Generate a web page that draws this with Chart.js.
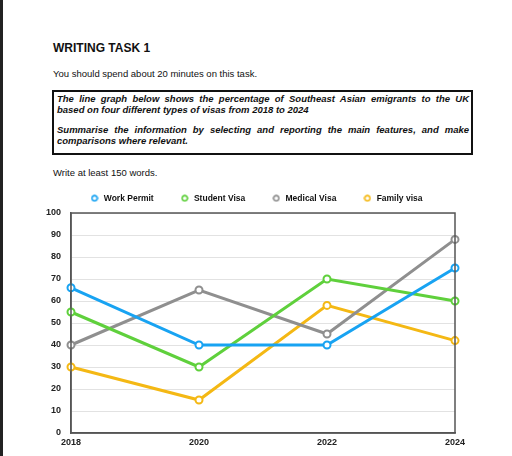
<!DOCTYPE html>
<html>
<head>
<meta charset="utf-8">
<script src="https://cdn.jsdelivr.net/npm/chart.js@4"></script>
<style>
  body { margin: 0; width: 512px; height: 456px; background: #fff; overflow: hidden; position: relative;
         font-family: "Liberation Sans", Arial, sans-serif; color: #111; }
  #edge { position: absolute; left: 0; top: 0; width: 3px; height: 456px; background: #222; }
  .t { position: absolute; left: 53px; white-space: nowrap; }
  #title { top: 41px; font-size: 12px; font-weight: bold; }
  #spend { top: 68px; font-size: 9.5px; }
  #box { position: absolute; left: 52px; top: 90px; width: 412px; height: 59px; border: 2px solid #111;
         padding: 2px 2px 0 3px; font-size: 9.5px; font-weight: bold; font-style: italic; line-height: 10.7px; }
  #box div { white-space: nowrap; }
  #box .j { text-align: justify; text-align-last: justify; white-space: normal; }
  #box .gap { height: 10px; }
  #words { top: 167px; font-size: 9.5px; }
  #wrap { position: absolute; left: 0; top: 168px; width: 512px; height: 288px; }
</style>
</head>
<body>
<div id="edge"></div>
<div class="t" id="title">WRITING TASK 1</div>
<div class="t" id="spend">You should spend about 20 minutes on this task.</div>
<div id="box">
  <div class="j">The line graph below shows the percentage of Southeast Asian emigrants to the UK</div>
  <div>based on four different types of visas from 2018 to 2024</div>
  <div class="gap"></div>
  <div class="j">Summarise the information by selecting and reporting the main features, and make</div>
  <div>comparisons where relevant.</div>
</div>
<div class="t" id="words">Write at least 150 words.</div>
<div id="wrap"><canvas id="chart"></canvas></div>
<script>
var years = ["2018", "2020", "2022", "2024"];
var workPermit = [66, 40, 40, 75];
var studentVisa = [55, 30, 70, 60];
var medicalVisa = [40, 65, 45, 88];
var familyVisa = [30, 15, 58, 42];

var blue = "#18a3f2", green = "#5fd03c", grey = "#8f8f8f", yellow = "#f4b814";

function line(label, data, color) {
  return {
    label: label,
    data: data,
    borderColor: color,
    backgroundColor: "#fff",
    borderWidth: 3,
    pointRadius: 3.5,
    pointBorderWidth: 2,
    pointBackgroundColor: "#fff",
    pointBorderColor: color,
    tension: 0
  };
}

// small hollow ring used as the legend marker
function ring(color) {
  var c = document.createElement("canvas");
  c.width = 8;
  c.height = 8;
  var g = c.getContext("2d");
  g.strokeStyle = color;
  g.lineWidth = 1.7;
  g.beginPath();
  g.arc(4, 4, 2.7, 0, Math.PI * 2);
  g.stroke();
  return c;
}

// frame around the plot area
var frame = {
  id: "frame",
  afterDraw: function(chart) {
    var a = chart.chartArea, c = chart.ctx;
    c.save();
    c.strokeStyle = "#555";
    c.lineWidth = 1.5;
    c.strokeRect(a.left, a.top, a.right - a.left, a.bottom - a.top);
    c.restore();
  }
};

// keep the wide horizontal legend spacing without the tall legend box
var legendHeight = {
  id: "legendHeight",
  afterInit: function(chart) {
    var fit = chart.legend.fit;
    chart.legend.fit = function() {
      fit.bind(chart.legend)();
      this.height = 45;
    };
  }
};

var tickFont = { family: "Liberation Sans", size: 9, weight: "bold" };

var ctx = document.getElementById("chart").getContext("2d");
new Chart(ctx, {
  type: "line",
  data: {
    labels: years,
    datasets: [
      line("Work Permit", workPermit, blue),
      line("Student Visa", studentVisa, green),
      line("Medical Visa", medicalVisa, grey),
      line("Family visa", familyVisa, yellow)
    ]
  },
  options: {
    responsive: true,
    maintainAspectRatio: false,
    animation: false,
    layout: { padding: { left: 20, right: 20, top: 0, bottom: 5 } },
    plugins: {
      legend: {
        labels: {
          usePointStyle: true,
          pointStyleWidth: 10,
          boxHeight: 8,
          padding: 26,
          color: "#111",
          font: { family: "Liberation Sans", size: 8.5, weight: "bold" },
          generateLabels: function(chart) {
            var items = Chart.defaults.plugins.legend.labels.generateLabels(chart);
            items.forEach(function(it, i) {
              it.pointStyle = ring(chart.data.datasets[i].borderColor);
            });
            return items;
          }
        }
      },
      tooltip: { enabled: false }
    },
    scales: {
      x: {
        grid: { display: false, drawTicks: false },
        border: { color: "#555", width: 1.5 },
        ticks: { color: "#222", font: tickFont, maxRotation: 0, padding: 4 },
        afterFit: function(s) { s.height = 18; }
      },
      y: {
        min: 0,
        max: 100,
        ticks: { stepSize: 10, color: "#222", font: tickFont, padding: 10 },
        grid: { color: "#e2e2e2", lineWidth: 1, drawTicks: false },
        border: { color: "#555", width: 1.5 },
        afterFit: function(s) { s.width = 51; }
      },
      // empty right-hand axis, only reserves the space right of the plot
      yRight: {
        position: "right",
        min: 0,
        max: 100,
        ticks: { display: false },
        grid: { display: false, drawTicks: false },
        border: { display: false },
        afterFit: function(s) { s.width = 37; }
      }
    }
  },
  plugins: [frame, legendHeight]
});
</script>
</body>
</html>
